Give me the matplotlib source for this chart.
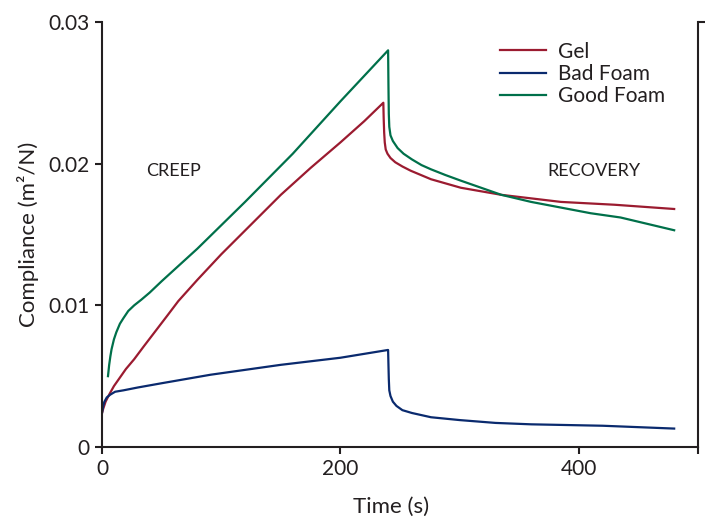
import matplotlib
matplotlib.use("Agg")
import matplotlib.pyplot as plt

plt.rcParams['font.family'] = ['Lato', 'DejaVu Sans']

# Creep / recovery compliance readings (time in s, compliance in m^2/N)
gel_t = [0, 1, 3, 6, 10, 15, 20, 27, 35, 45, 55, 64, 80, 100, 125, 150, 175, 200, 220, 236,
         236.3, 236.7, 237.2, 238, 239.5, 242, 246, 252, 259, 276, 301, 335, 385, 430, 480]
gel_c = [0.0024, 0.0027, 0.0032, 0.0037, 0.0043, 0.0049, 0.0055, 0.0062, 0.0071, 0.0082,
         0.0093, 0.0103, 0.0118, 0.0136, 0.0157, 0.0178, 0.0197, 0.0215, 0.0230, 0.0243,
         0.0232, 0.0222, 0.0215, 0.0210, 0.0207, 0.0204, 0.0201, 0.0198, 0.0195, 0.0189,
         0.0183, 0.0178, 0.0173, 0.0171, 0.0168]

bad_t = [0, 1, 2, 4, 7, 11, 18, 30, 50, 91, 150, 200, 240,
         240.3, 240.6, 241, 242, 244, 247, 252, 260, 276, 300, 330, 360, 420, 480]
bad_c = [0.0024, 0.0029, 0.0032, 0.0035, 0.0037, 0.0039, 0.0040, 0.0042, 0.0045, 0.0051,
         0.0058, 0.0063, 0.00685,
         0.0058, 0.0048, 0.0040, 0.0036, 0.0032, 0.0029, 0.0026, 0.0024, 0.0021, 0.0019,
         0.0017, 0.0016, 0.0015, 0.0013]

good_t = [5, 6, 7, 8, 10, 12, 15, 18, 22, 27, 33, 40, 50, 80, 120, 160, 200, 240,
          240.3, 240.6, 241, 242, 244, 248, 253, 260, 268, 276, 288, 301, 318, 335, 360,
          385, 410, 435, 460, 480]
good_c = [0.0050, 0.0058, 0.0064, 0.0069, 0.0076, 0.0081, 0.0087, 0.0091, 0.0096, 0.0100,
          0.0104, 0.0109, 0.0117, 0.0140, 0.0173, 0.0207, 0.0244, 0.0280,
          0.0255, 0.0235, 0.0226, 0.0220, 0.0216, 0.0211, 0.0207, 0.0203, 0.0199, 0.0196,
          0.0192, 0.0188, 0.0183, 0.0178, 0.0173, 0.0169, 0.0165, 0.0162, 0.0157, 0.0153]

x_ticks = [0, 200, 400, 500]
x_tick_labels = ["0", "200", "400", ""]
y_ticks = [0, 0.01, 0.02, 0.03]
y_tick_labels = ["0", "0.01", "0.02", "0.03"]

fig = plt.figure(figsize=(7.09, 5.2), dpi=100)
ax = fig.add_axes([0.1439, 0.1404, 0.8406, 0.8173])

ax.plot(gel_t, gel_c, color="#9B1B30", lw=1.6, label="Gel")
ax.plot(bad_t, bad_c, color="#0A2A6E", lw=1.6, label="Bad Foam")
ax.plot(good_t, good_c, color="#00704A", lw=1.6, label="Good Foam")

ax.set_xlim(0, 500)
ax.set_ylim(0, 0.03)
ax.set_xticks(x_ticks)
ax.set_xticklabels(x_tick_labels)
ax.set_yticks(y_ticks)
ax.set_yticklabels(y_tick_labels)

dark = "#231F20"
for side in ["left", "bottom", "right"]:
    ax.spines[side].set_linewidth(1.5)
    ax.spines[side].set_color(dark)
ax.spines["top"].set_visible(False)
ax.tick_params(axis="both", direction="out", length=5, width=1.5, color=dark,
               labelsize=15, labelcolor=dark, pad=4)

# right axis only carries a tick at the top
ax2 = ax.twinx()
ax2.set_ylim(0, 0.03)
ax2.set_yticks([0.03])
ax2.set_yticklabels([""])
ax2.tick_params(axis="y", direction="out", length=5, width=1.5, color=dark)
for side in ["left", "bottom", "right", "top"]:
    ax2.spines[side].set_visible(False)

ax.set_xlabel("Time (s)", fontsize=16, color=dark)
ax.xaxis.set_label_coords(0.485, -0.118)
ax.set_ylabel("Compliance (m²/N)", fontsize=16, color=dark, labelpad=7)

ax.text(60, 0.0195, "CREEP", fontsize=13, color=dark, ha="center", va="center")
ax.text(413, 0.0195, "RECOVERY", fontsize=13, color=dark, ha="center", va="center")

ax.legend(loc="upper left", bbox_to_anchor=(0.651, 0.978), frameon=False,
          fontsize=15, handlelength=2.2, handletextpad=0.55, labelspacing=0.1,
          borderpad=0, labelcolor=dark)

fig.savefig("out.png", dpi=100)
